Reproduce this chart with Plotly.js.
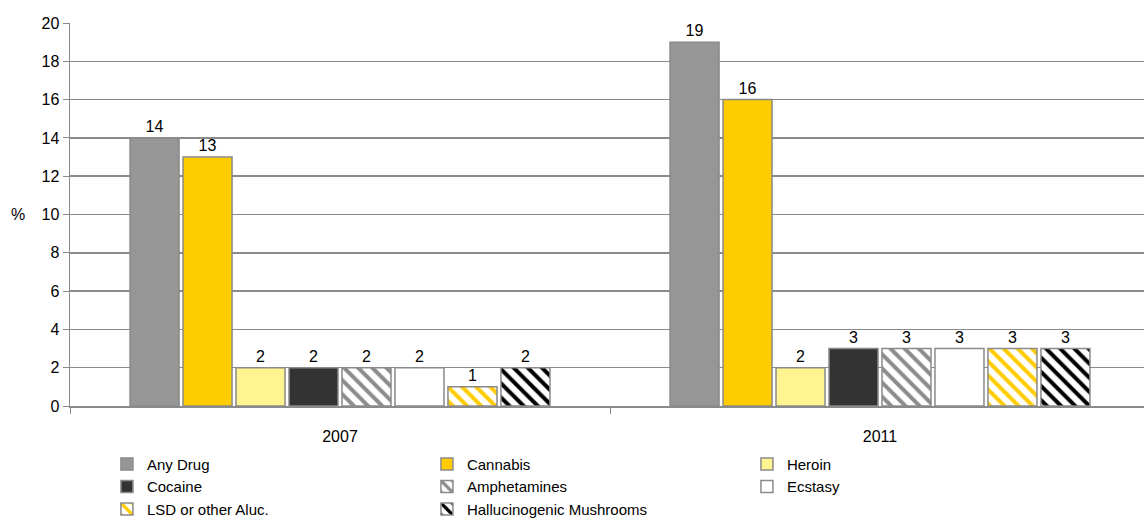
<!DOCTYPE html>
<html>
<head>
<meta charset="utf-8">
<script src="https://cdn.plot.ly/plotly-3.0.1.min.js"></script>
<style>
html,body{margin:0;padding:0;background:#fff;overflow:hidden;}
#chart{width:1150px;height:530px;}
</style>
</head>
<body>
<div id="chart"></div>
<script>
const years = ['2007', '2011'];
const seriesNames = ['Any Drug', 'Cannabis', 'Heroin', 'Cocaine', 'Amphetamines', 'Ecstasy', 'LSD or other Aluc.', 'Hallucinogenic Mushrooms'];
const anyDrug = [14, 19];
const cannabis = [13, 16];
const heroin = [2, 2];
const cocaine = [2, 3];
const amphetamines = [2, 3];
const ecstasy = [2, 3];
const lsd = [1, 3];
const mushrooms = [2, 3];
const yTicks = [0, 2, 4, 6, 8, 10, 12, 14, 16, 18, 20];

const values = [anyDrug, cannabis, heroin, cocaine, amphetamines, ecstasy, lsd, mushrooms];
const styles = [
  {color: '#969696'},
  {color: '#FFCC00'},
  {color: '#FFF48F'},
  {color: '#333333'},
  {color: '#ffffff', pattern: {shape: '\\', fgcolor: '#8c8c8c', bgcolor: '#ffffff', size: 10, solidity: 0.4}},
  {color: '#ffffff'},
  {color: '#ffffff', pattern: {shape: '\\', fgcolor: '#FFCC00', bgcolor: '#ffffff', size: 10, solidity: 0.4}},
  {color: '#ffffff', pattern: {shape: '\\', fgcolor: '#000000', bgcolor: '#ffffff', size: 10, solidity: 0.4}}
];

const traces = seriesNames.map((name, i) => {
  const marker = {color: styles[i].color, line: {color: '#8a8a8a', width: 1.5}};
  if (styles[i].pattern) marker.pattern = styles[i].pattern;
  return {
    type: 'bar',
    name: name,
    x: years,
    y: values[i],
    text: values[i].map(String),
    textposition: 'outside',
    textfont: {family: 'Liberation Sans, Arial, sans-serif', size: 16, color: '#000'},
    cliponaxis: false,
    marker: marker,
    hoverinfo: 'none'
  };
});

const layout = {
  width: 1150,
  height: 530,
  margin: {l: 70, r: 0, t: 23, b: 124},
  paper_bgcolor: '#fff',
  plot_bgcolor: '#fff',
  font: {family: 'Liberation Sans, Arial, sans-serif', size: 16, color: '#000'},
  barmode: 'group',
  bargap: 0.215,
  bargroupgap: 0.075,
  showlegend: true,
  legend: {
    orientation: 'h',
    xref: 'container',
    yref: 'container',
    x: 0.093,
    y: 0.155,
    xanchor: 'left',
    yanchor: 'top',
    entrywidth: 275,
    entrywidthmode: 'pixels',
    font: {size: 15},
    itemwidth: 30,
    tracegroupgap: 0,
    traceorder: 'normal'
  },
  xaxis: {
    type: 'category',
    showline: true,
    linecolor: '#8a8a8a',
    linewidth: 1.5,
    ticks: 'outside',
    tickson: 'boundaries',
    ticklen: 6,
    tickcolor: '#8a8a8a',
    tickfont: {size: 16},
    ticklabelstandoff: 15,
    showgrid: false,
    fixedrange: true
  },
  yaxis: {
    range: [0, 20],
    tickvals: yTicks,
    ticktext: yTicks.map(String),
    showline: true,
    linecolor: '#8a8a8a',
    linewidth: 1.5,
    ticks: 'outside',
    ticklen: 6,
    tickcolor: '#8a8a8a',
    showgrid: true,
    gridcolor: '#8a8a8a',
    gridwidth: 1.5,
    zeroline: false,
    tickfont: {size: 16},
    fixedrange: true
  },
  annotations: [{
    text: '%',
    xref: 'paper', yref: 'paper',
    x: -0.048, y: 0.5,
    xanchor: 'center', yanchor: 'middle',
    showarrow: false,
    font: {size: 16}
  }]
};

Plotly.newPlot('chart', traces, layout, {displayModeBar: false, staticPlot: true});
</script>
</body>
</html>
